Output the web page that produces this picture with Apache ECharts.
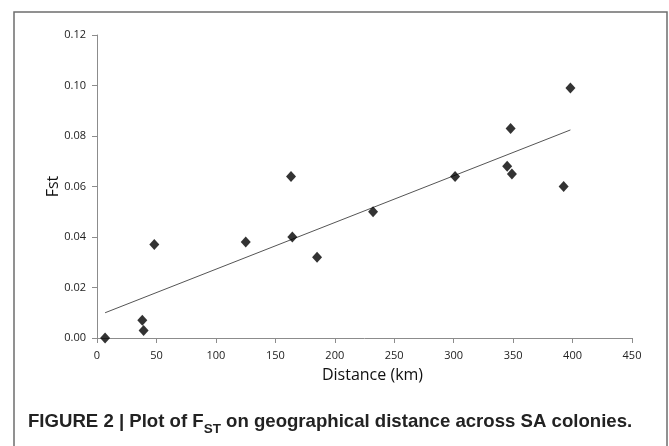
<!DOCTYPE html>
<html>
<head>
<meta charset="utf-8">
<script src="https://cdn.jsdelivr.net/npm/echarts@6/dist/echarts.min.js"></script>
<style>
  html, body { margin: 0; padding: 0; background: #fff; }
  #main { width: 669px; height: 446px; }
</style>
</head>
<body>
<div id="main"></div>
<script>
var myChart = echarts.init(document.getElementById('main'));

// distance (km) and Fst
var distance = [6.8, 38.1, 39.2, 48.2, 125.1, 163.2, 164.3, 185.1, 232.2, 301.2, 345.0, 347.9, 349.0, 392.5, 398.2];
var fst = [0.000, 0.007, 0.003, 0.037, 0.038, 0.064, 0.040, 0.032, 0.050, 0.064, 0.068, 0.083, 0.065, 0.060, 0.099];
// linear trendline end points
var trendX = [6.8, 398.2];
var trendY = [0.0100, 0.0824];

var points = distance.map(function (d, i) { return [d, fst[i]]; });
var trend = trendX.map(function (d, i) { return [d, trendY[i]]; });

var axisGray = '#8c8c8c';
var labelFont = 'Open Sans';

var option = {
    backgroundColor: '#fff',
    animation: false,
    grid: { left: 97, right: 37, top: 35, bottom: 108 },
    xAxis: {
        type: 'value',
        min: 0, max: 450, interval: 50,
        name: 'Distance (km)',
        nameLocation: 'middle',
        nameGap: 29,
        nameTextStyle: { fontFamily: labelFont, fontSize: 16, color: '#111', padding: [0, 0, 0, 16] },
        axisLine: { lineStyle: { color: axisGray, width: 1 } },
        axisTick: { show: true, length: 5, lineStyle: { color: axisGray } },
        axisLabel: { fontFamily: labelFont, fontSize: 11, color: '#222', margin: 12 },
        splitLine: { show: false }
    },
    yAxis: {
        type: 'value',
        min: 0, max: 0.12, interval: 0.02,
        name: 'Fst',
        nameLocation: 'middle',
        nameGap: 36,
        nameMoveOverlap: false,
        nameTextStyle: { fontFamily: labelFont, fontSize: 16, color: '#111' },
        axisLine: { show: true, lineStyle: { color: axisGray, width: 1 } },
        axisTick: { show: true, length: 5, lineStyle: { color: axisGray } },
        axisLabel: {
            fontFamily: labelFont, fontSize: 11, color: '#222', margin: 11,
            formatter: function (v) { return v.toFixed(2); }
        },
        splitLine: { show: false }
    },
    series: [
        {
            name: 'trend',
            type: 'line',
            data: trend,
            symbol: 'none',
            lineStyle: { color: '#555', width: 1 },
            z: 1
        },
        {
            name: 'Fst',
            type: 'scatter',
            data: points,
            symbol: 'diamond',
            symbolSize: [10, 11],
            itemStyle: { color: '#000' },
            z: 3
        }
    ],
    graphic: [
        {
            type: 'rect',
            shape: { x: 14, y: 12, width: 653, height: 445 },
            style: { fill: 'none', stroke: '#6e6e6e', lineWidth: 1.5 },
            silent: true
        },
        {
            type: 'text',
            left: 28,
            top: 408,
            style: {
                text: '{a|FIGURE 2 | Plot of F}{s|ST}{a| on geographical distance across SA colonies.}',
                rich: {
                    a: { fontFamily: 'Liberation Sans', fontWeight: 'bold', fontSize: 18.6, lineHeight: 24, fill: '#222', verticalAlign: 'middle' },
                    s: { fontFamily: 'Liberation Sans', fontWeight: 'bold', fontSize: 13.5, lineHeight: 13, padding: [14, 0, 0, 0], fill: '#222', verticalAlign: 'middle' }
                }
            }
        }
    ]
};

myChart.setOption(option);
</script>
</body>
</html>
